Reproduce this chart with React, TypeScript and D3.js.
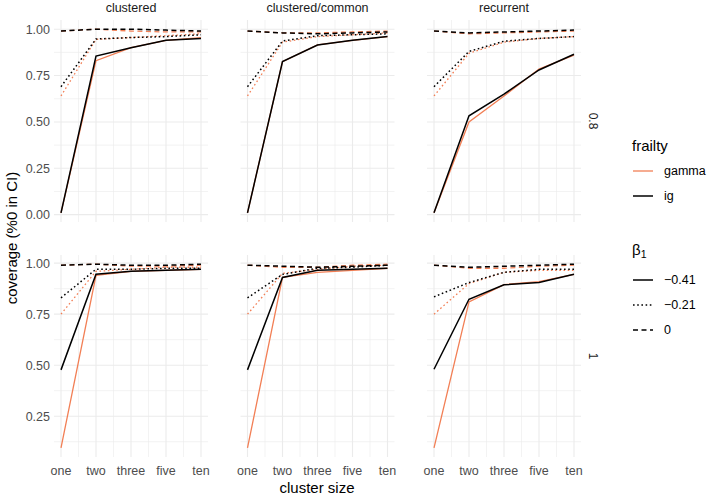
import * as d3 from 'd3';

const clusterSizes = ['one', 'two', 'three', 'five', 'ten'];
const designs = ['clustered', 'clustered/common', 'recurrent'];
const rowLabels = ['0.8', '1'];
const betaLabels = ['\u22120.41', '\u22120.21', '0'];
const frailties = ['gamma', 'ig'];
const yTicksRow08 = [0, 0.25, 0.5, 0.75, 1];
const yTicksRow1 = [0.25, 0.5, 0.75, 1];

// each array: [beta -0.41, beta -0.21, beta 0], values per cluster size
const r08ClusteredGamma = [
  [0.01, 0.83, 0.9, 0.94, 0.955],
  [0.64, 0.945, 0.955, 0.965, 0.975],
  [0.99, 1.0, 0.99, 0.985, 0.985],
];
const r08ClusteredIg = [
  [0.01, 0.855, 0.9, 0.94, 0.95],
  [0.69, 0.947, 0.955, 0.96, 0.97],
  [0.99, 1.0, 1.0, 0.995, 0.99],
];
const r08CommonGamma = [
  [0.01, 0.825, 0.915, 0.94, 0.96],
  [0.64, 0.93, 0.96, 0.97, 0.98],
  [0.99, 0.98, 0.98, 0.985, 0.99],
];
const r08CommonIg = [
  [0.01, 0.825, 0.915, 0.94, 0.96],
  [0.69, 0.936, 0.965, 0.97, 0.975],
  [0.99, 0.98, 0.975, 0.98, 0.985],
];
const r08RecurrentGamma = [
  [0.01, 0.5, 0.64, 0.785, 0.86],
  [0.64, 0.87, 0.93, 0.95, 0.96],
  [0.99, 0.975, 0.98, 0.985, 0.99],
];
const r08RecurrentIg = [
  [0.01, 0.533, 0.65, 0.78, 0.865],
  [0.69, 0.88, 0.935, 0.95, 0.96],
  [0.99, 0.98, 0.985, 0.99, 0.995],
];
const r1ClusteredGamma = [
  [0.095, 0.94, 0.96, 0.965, 0.97],
  [0.75, 0.96, 0.97, 0.98, 0.98],
  [0.99, 0.995, 0.985, 0.985, 0.99],
];
const r1ClusteredIg = [
  [0.477, 0.946, 0.96, 0.965, 0.97],
  [0.83, 0.97, 0.97, 0.975, 0.975],
  [0.99, 0.995, 0.99, 0.99, 0.995],
];
const r1CommonGamma = [
  [0.095, 0.93, 0.955, 0.965, 0.975],
  [0.75, 0.95, 0.97, 0.985, 0.99],
  [0.99, 0.98, 0.98, 0.99, 0.995],
];
const r1CommonIg = [
  [0.477, 0.93, 0.965, 0.97, 0.975],
  [0.83, 0.945, 0.975, 0.98, 0.99],
  [0.99, 0.985, 0.98, 0.985, 0.99],
];
const r1RecurrentGamma = [
  [0.095, 0.81, 0.895, 0.91, 0.945],
  [0.75, 0.9, 0.955, 0.965, 0.965],
  [0.99, 0.975, 0.975, 0.985, 0.99],
];
const r1RecurrentIg = [
  [0.48, 0.823, 0.894, 0.905, 0.946],
  [0.835, 0.905, 0.955, 0.97, 0.97],
  [0.99, 0.98, 0.985, 0.99, 0.995],
];

const panelData = [
  [
    [r08ClusteredGamma, r08ClusteredIg],
    [r08CommonGamma, r08CommonIg],
    [r08RecurrentGamma, r08RecurrentIg],
  ],
  [
    [r1ClusteredGamma, r1ClusteredIg],
    [r1CommonGamma, r1CommonIg],
    [r1RecurrentGamma, r1RecurrentIg],
  ],
];
const rowTicks = [yTicksRow08, yTicksRow1];

const frailtyColors = ['#f27f55', '#000000'];
const dashes = ['none', '1.6 2.6', '5 3.5'];
const font = '"Liberation Sans", Arial, Helvetica, sans-serif';

const panelLefts = [54, 240.5, 427];
const panelTops = [20, 255];
const W = 154;
const H = 202;

function Panel({ row, col }: { row: number; col: number }) {
  const left = panelLefts[col];
  const top = panelTops[row];
  const rowVals = panelData[row].flat(2).flat();
  const [lo, hi] = d3.extent(rowVals) as [number, number];
  const pad = (hi - lo) * 0.05;
  const y = d3.scaleLinear().domain([lo - pad, hi + pad]).range([top + H, top]);
  const x = d3.scaleLinear().domain([0.8, 5.2]).range([left, left + W]);
  const [d0, d1] = y.domain();
  const majors = rowTicks[row];
  const minors = d3.range(-0.125, 1.2, 0.25).filter((t) => t >= d0 && t <= d1);
  const xMinor = d3.range(1.5, 5, 1);
  const line = d3
    .line<number>()
    .x((_, i) => x(i + 1))
    .y((v) => y(v));
  const series = panelData[row][col];
  return (
    <g>
      {minors.map((t) => (
        <line key={'ym' + t} x1={left} x2={left + W} y1={y(t)} y2={y(t)} stroke="#ebebeb" strokeWidth={0.6} />
      ))}
      {xMinor.map((t) => (
        <line key={'xm' + t} x1={x(t)} x2={x(t)} y1={top} y2={top + H} stroke="#ebebeb" strokeWidth={0.6} />
      ))}
      {majors.map((t) => (
        <line key={'y' + t} x1={left} x2={left + W} y1={y(t)} y2={y(t)} stroke="#ebebeb" strokeWidth={1.1} />
      ))}
      {clusterSizes.map((c, i) => (
        <line key={'x' + c} x1={x(i + 1)} x2={x(i + 1)} y1={top} y2={top + H} stroke="#ebebeb" strokeWidth={1.1} />
      ))}
      {[0, 1].map((f) =>
        series[f].map((vals, b) => (
          <path
            key={f + '-' + b}
            d={line(vals) ?? ''}
            fill="none"
            stroke={frailtyColors[f]}
            strokeWidth={f === 1 ? 1.5 : 1.3}
            strokeDasharray={dashes[b]}
          />
        ))
      )}
      {col === 0 &&
        majors.map((t) => (
          <text key={'yl' + t} x={left - 4} y={y(t)} dy="0.35em" textAnchor="end" fontSize={12.5} fill="#4d4d4d">
            {t.toFixed(2)}
          </text>
        ))}
      {row === 1 &&
        clusterSizes.map((c, i) => (
          <text key={'xl' + c} x={x(i + 1)} y={top + H + 18} textAnchor="middle" fontSize={12.5} fill="#4d4d4d">
            {c}
          </text>
        ))}
      {row === 0 && (
        <text x={left + W / 2} y={12} textAnchor="middle" fontSize={12.5} fill="#1a1a1a">
          {designs[col]}
        </text>
      )}
      {col === 2 && (
        <text
          transform={`translate(${left + W + 12},${top + H / 2}) rotate(90)`}
          textAnchor="middle"
          dy="0.35em"
          fontSize={12}
          fill="#1a1a1a"
        >
          {rowLabels[row]}
        </text>
      )}
    </g>
  );
}

export default function App() {
  return (
    <svg width={709} height={498} style={{ display: 'block', position: 'absolute', left: 0, top: 0 }} fontFamily={font}>
      <rect width={709} height={498} fill="#ffffff" />
      {[0, 1].map((r) => [0, 1, 2].map((c) => <Panel key={r + '-' + c} row={r} col={c} />))}
      <text x={317} y={493} textAnchor="middle" fontSize={15} fill="#000">
        cluster size
      </text>
      <text transform="translate(12,238) rotate(-90)" textAnchor="middle" dy="0.35em" fontSize={15} fill="#000">
        coverage (%0 in CI)
      </text>
      <text x={632} y={151} fontSize={15} fill="#000">
        frailty
      </text>
      {frailties.map((f, i) => (
        <g key={f}>
          <line x1={633} x2={653} y1={171 + i * 25} y2={171 + i * 25} stroke={frailtyColors[i]} strokeWidth={i === 1 ? 1.5 : 1.3} />
          <text x={664} y={171 + i * 25} dy="0.35em" fontSize={12.5} fill="#000">
            {f}
          </text>
        </g>
      ))}
      <text x={632} y={255} fontSize={15} fill="#000">
        β<tspan fontSize={10.5} dy={3}>1</tspan>
      </text>
      {betaLabels.map((b, i) => (
        <g key={b}>
          <line x1={633} x2={653} y1={280 + i * 25} y2={280 + i * 25} stroke="#000" strokeWidth={1.5} strokeDasharray={dashes[i]} />
          <text x={664} y={280 + i * 25} dy="0.35em" fontSize={12.5} fill="#000">
            {b}
          </text>
        </g>
      ))}
    </svg>
  );
}
